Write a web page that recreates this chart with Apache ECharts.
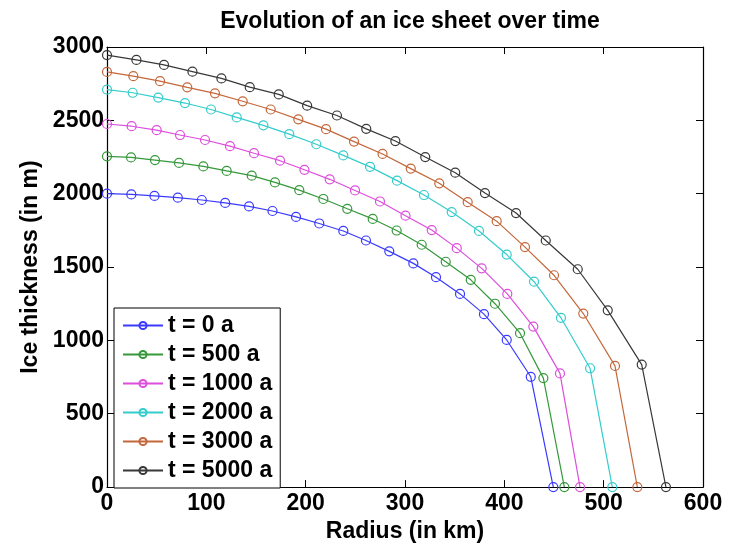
<!DOCTYPE html>
<html>
<head>
<meta charset="utf-8">
<script src="https://cdn.jsdelivr.net/npm/echarts@6/dist/echarts.min.js"></script>
<style>
  html, body { margin: 0; padding: 0; background: #fff; }
  #chart { width: 740px; height: 548px; }
</style>
</head>
<body>
<div id="chart"></div>
<script>
// radius (km) and ice thickness (m) for each time step
var names = ['t = 0 a', 't = 500 a', 't = 1000 a', 't = 2000 a', 't = 3000 a', 't = 5000 a'];
var colors = ['#3a3aff', '#35983a', '#dc4edc', '#35cccc', '#c4673a', '#383838'];

var r0 = [0, 24.5, 47.8, 71.3, 95.5, 119, 143, 166.6, 190.3, 213.7, 237.9, 260.7, 284.2, 308.4, 331.2, 355.4, 379.5, 402.4, 426.6, 449.3];
var h0 = [2000, 1995, 1985, 1973, 1957, 1937, 1913, 1882, 1842, 1797, 1746, 1681, 1607, 1525, 1431, 1317, 1179, 1003, 752, 0];

var r500 = [0, 24.2, 48.3, 72.5, 97, 120.5, 145.7, 169.1, 193.6, 217.8, 241.9, 267.5, 291.6, 316.8, 341, 366.2, 390.6, 415.8, 439.3, 460.4];
var h500 = [2255, 2247, 2229, 2210, 2186, 2155, 2123, 2077, 2024, 1964, 1897, 1828, 1749, 1652, 1536, 1413, 1250, 1049, 743, 0];

var r1000 = [0, 24.8, 50, 73.5, 98.7, 123.8, 148, 174.2, 198.8, 224.2, 249.7, 274.8, 300.5, 326.9, 352.1, 377.2, 403, 429.2, 456, 476.2];
var h1000 = [2475, 2460, 2433, 2400, 2366, 2324, 2276, 2225, 2163, 2098, 2022, 1947, 1850, 1752, 1629, 1491, 1317, 1094, 775, 0];

var r2000 = [0, 25.9, 51.6, 78.5, 104.7, 130.6, 157.4, 183.5, 210.7, 237.9, 264.8, 292, 319.1, 347, 374.5, 402.4, 429.9, 457, 486.3, 508.7];
var h2000 = [2710, 2688, 2655, 2618, 2574, 2520, 2466, 2406, 2337, 2261, 2183, 2089, 1991, 1875, 1746, 1585, 1400, 1154, 810, 0];

var r3000 = [0, 26.5, 53.4, 80.8, 108.7, 136.6, 164.8, 192.6, 220.5, 248.7, 277.4, 305.8, 334.5, 363.1, 392.3, 420.8, 450, 479.5, 511.4, 533.9];
var h3000 = [2830, 2801, 2767, 2725, 2684, 2630, 2574, 2507, 2440, 2355, 2271, 2171, 2071, 1942, 1813, 1636, 1444, 1183, 826, 0];

var r5000 = [0, 29.6, 57.4, 86, 115.2, 143.7, 172.9, 201.5, 231.5, 261, 290.3, 320.4, 350.6, 380.5, 411.8, 441.7, 473.9, 504.1, 538.3, 562.7];
var h5000 = [2945, 2912, 2878, 2832, 2786, 2726, 2677, 2600, 2533, 2442, 2359, 2250, 2143, 2004, 1868, 1681, 1485, 1205, 835, 0];

var radii = [r0, r500, r1000, r2000, r3000, r5000];
var heights = [h0, h500, h1000, h2000, h3000, h5000];

var xTicks = [0, 600, 100];
var yTicks = [0, 3000, 500];

var font = 'Liberation Sans';

function pairs(xs, ys) {
  var out = [];
  for (var i = 0; i < xs.length; i++) {
    out.push([xs[i], ys[i]]);
  }
  return out;
}

function plain(v) {
  return String(v);
}

var series = [];
for (var i = 0; i < names.length; i++) {
  series.push({
    name: names[i],
    type: 'line',
    data: pairs(radii[i], heights[i]),
    symbol: 'circle',
    symbolSize: 9,
    showAllSymbol: true,
    lineStyle: { color: colors[i], width: 1.2 },
    itemStyle: { color: 'rgba(255,255,255,0)', borderColor: colors[i], borderWidth: 1.2 },
    emphasis: { disabled: true }
  });
}

var tickStyle = { show: true, inside: true, length: 7, lineStyle: { color: '#000', width: 1 } };
var lineStyle = { show: true, onZero: false, lineStyle: { color: '#000', width: 1.2 } };

var chart = echarts.init(document.getElementById('chart'));
chart.setOption({
  animation: false,
  backgroundColor: '#fff',
  title: {
    text: 'Evolution of an ice sheet over time',
    left: 405,
    top: 5,
    textAlign: 'center',
    textStyle: { fontFamily: font, fontSize: 23, fontWeight: 'bold', color: '#000' }
  },
  grid: { left: 107, right: 37, top: 47, bottom: 53 },
  legend: {
    orient: 'vertical',
    left: 114,
    top: 308,
    padding: [5, 8, 5, 8],
    itemWidth: 40,
    itemHeight: 9,
    itemGap: 4,
    itemTextGap: 4,
    backgroundColor: '#fff',
    borderColor: '#000',
    borderWidth: 1,
    textStyle: { fontFamily: font, fontSize: 23, fontWeight: 'bold', color: '#000', lineHeight: 25 },
    data: names
  },
  xAxis: [{
    type: 'value',
    min: xTicks[0], max: xTicks[1], interval: xTicks[2],
    name: 'Radius (in km)',
    nameLocation: 'middle',
    nameGap: 30,
    nameTextStyle: { fontFamily: font, fontSize: 23, fontWeight: 'bold', color: '#000' },
    axisLine: lineStyle,
    axisTick: tickStyle,
    axisLabel: { fontFamily: font, fontSize: 23, fontWeight: 'bold', color: '#000', margin: 5, formatter: plain },
    splitLine: { show: false }
  }, {
    type: 'value', position: 'top',
    min: xTicks[0], max: xTicks[1], interval: xTicks[2],
    axisLine: lineStyle,
    axisTick: tickStyle,
    axisLabel: { show: false },
    splitLine: { show: false }
  }],
  yAxis: [{
    type: 'value',
    min: yTicks[0], max: yTicks[1], interval: yTicks[2],
    name: 'Ice thickness (in m)',
    nameLocation: 'middle',
    nameGap: 51,
    nameTextStyle: { fontFamily: font, fontSize: 23, fontWeight: 'bold', color: '#000' },
    axisLine: lineStyle,
    axisTick: tickStyle,
    axisLabel: { fontFamily: font, fontSize: 23, fontWeight: 'bold', color: '#000', margin: 3, formatter: plain },
    splitLine: { show: false }
  }, {
    type: 'value', position: 'right',
    min: yTicks[0], max: yTicks[1], interval: yTicks[2],
    axisLine: lineStyle,
    axisTick: tickStyle,
    axisLabel: { show: false },
    splitLine: { show: false }
  }],
  series: series
});
</script>
</body>
</html>
